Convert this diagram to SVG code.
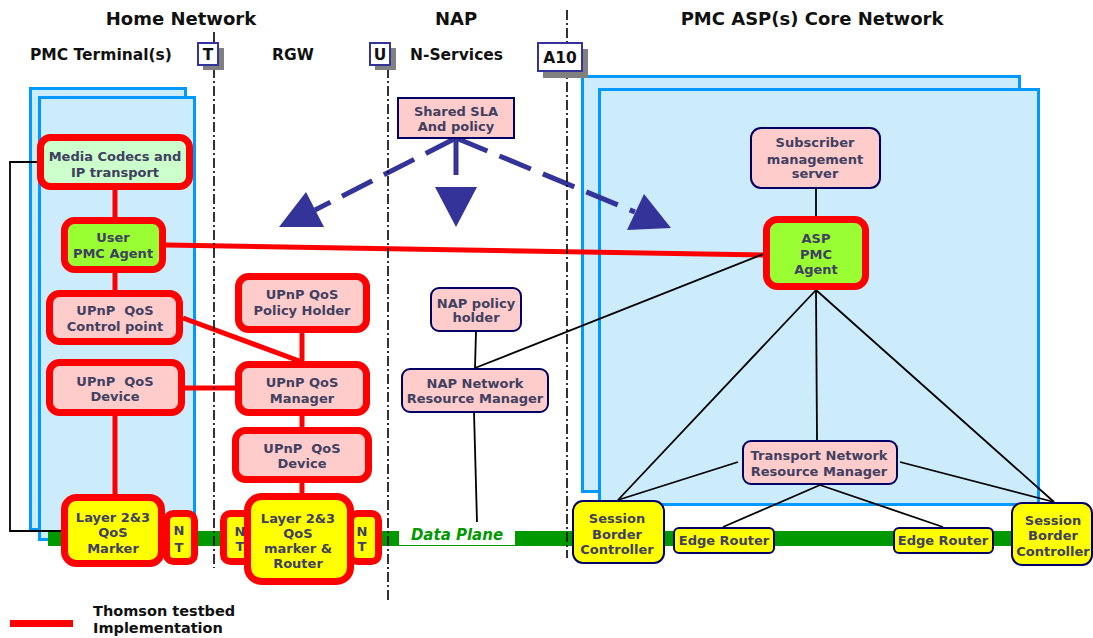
<svg xmlns="http://www.w3.org/2000/svg" width="1093" height="638" viewBox="0 0 1093 638">
<style>
.title{font-family:"DejaVu Sans",Verdana,sans-serif;font-weight:bold;font-size:18px;fill:#111;text-anchor:middle}
.sub{font-family:"DejaVu Sans",Verdana,sans-serif;font-weight:bold;font-size:15.5px;fill:#111}
.t{font-family:"DejaVu Sans",Verdana,sans-serif;font-weight:bold;font-size:13px;fill:#404060;text-anchor:middle}
.panel{fill:#CCEBFB;stroke:#0099FF;stroke-width:3}
.rn{stroke:#FF0000;stroke-width:7}
.nv{stroke:#000066;stroke-width:2}
.pink{fill:#FFCCCC}
.lg{fill:#CCFFCC}
.gr{fill:#99FF33}
.ye{fill:#FFFF00}
.dd{fill:none;stroke:#000;stroke-width:1.6;stroke-dasharray:10 3 2 3}
.red{stroke:#FF0000;stroke-width:5;fill:none}
.blk{stroke:#000;stroke-width:1.8;fill:none}
.dash{stroke:#333399;stroke-width:5;fill:none;stroke-dasharray:34 13}
.ah{fill:#333399}
.ifc{fill:#fff;stroke:#333399;stroke-width:2}
.shd{fill:#808080}
.lgd{font-family:"DejaVu Sans",Verdana,sans-serif;font-weight:bold;font-size:14.5px;fill:#111}
</style>

<g id="titles">
<text class="title" x="181" y="25">Home Network</text>
<text class="title" x="456" y="25">NAP</text>
<text class="title" x="812" y="25">PMC ASP(s) Core Network</text>
<text class="sub" x="30" y="60">PMC Terminal(s)</text>
<text class="sub" x="272" y="60">RGW</text>
<text class="sub" x="410" y="60">N-Services</text>
</g>

<g id="panels">
<rect class="panel" x="30.5" y="88.5" width="155" height="441"/>
<rect class="panel" x="39.5" y="97.5" width="155" height="442"/>
<rect class="panel" x="582.5" y="76.5" width="437" height="415"/>
<rect class="panel" x="599.5" y="89.5" width="439" height="415"/>
</g>

<g id="dataplane">
<rect x="48" y="531" width="1012" height="15" fill="#009900"/>
<rect x="399" y="531" width="116" height="14" fill="#fff"/>
<text x="457" y="539.5" font-family="DejaVu Sans,Verdana,sans-serif" font-weight="bold" font-style="italic" font-size="15" fill="#009900" text-anchor="middle">Data Plane</text>
</g>

<g id="connectors">
<line class="red" x1="166" y1="245" x2="766" y2="255"/>
<line class="red" x1="115" y1="190" x2="115" y2="217"/>
<line class="red" x1="115" y1="273" x2="115" y2="290"/>
<line class="red" x1="115" y1="416" x2="115" y2="494"/>
<line class="red" x1="183" y1="318" x2="302" y2="362"/>
<line class="red" x1="302" y1="333" x2="302" y2="361"/>
<line class="red" x1="185" y1="388" x2="235" y2="388"/>
<line class="red" x1="302" y1="416" x2="302" y2="427"/>
<line class="red" x1="302" y1="483" x2="302" y2="493"/>
<path class="blk" d="M37 162 H10 V531 H62"/>
<line class="blk" x1="476" y1="331" x2="475" y2="368"/>
<line class="blk" x1="475" y1="368" x2="766" y2="253"/>
<line class="blk" x1="474" y1="412" x2="477" y2="522"/>
<line class="blk" x1="816" y1="188" x2="816" y2="216"/>
<line class="blk" x1="816" y1="290" x2="618" y2="500"/>
<line class="blk" x1="816" y1="290" x2="817" y2="440"/>
<line class="blk" x1="816" y1="290" x2="1054" y2="502"/>
<line class="blk" x1="738" y1="462" x2="618" y2="500"/>
<line class="blk" x1="900" y1="462" x2="1054" y2="502"/>
<line class="blk" x1="820" y1="485" x2="723" y2="527"/>
<line class="blk" x1="820" y1="485" x2="943" y2="527"/>
<line class="dash" x1="456" y1="138" x2="315" y2="210"/>
<line class="dash" x1="456" y1="138" x2="635" y2="212"/>
<line stroke="#333399" stroke-width="5" x1="456" y1="138" x2="456" y2="175"/>
<polygon class="ah" points="279,227 324,227 306,192"/>
<polygon class="ah" points="435,187 477,187 456,227"/>
<polygon class="ah" points="671,228 627,230 644,194"/>
</g>

<g id="boundaries">
<line class="dd" x1="214" y1="32" x2="214" y2="568"/>
<line class="dd" x1="388" y1="68" x2="388" y2="600"/>
<line class="dd" x1="567" y1="10" x2="567" y2="558"/>
</g>

<g id="if-T">
<rect class="shd" x="203" y="48" width="21" height="22"/>
<rect class="ifc" x="198" y="43" width="20" height="22"/>
<text class="sub" x="208" y="60" text-anchor="middle">T</text>
</g>
<g id="if-U">
<rect class="shd" x="375" y="48" width="21" height="22"/>
<rect class="ifc" x="370" y="43" width="20" height="22"/>
<text class="sub" x="380" y="60" text-anchor="middle">U</text>
</g>
<g id="if-A10">
<rect class="shd" x="543" y="49" width="45" height="29"/>
<rect class="ifc" x="538" y="43" width="44" height="28"/>
<text class="sub" x="560" y="63" text-anchor="middle">A10</text>
</g>

<g id="media-codecs">
<rect class="rn lg" x="40.5" y="137.5" width="149" height="49" rx="10"/>
<text class="t" x="115" y="161">Media Codecs and</text>
<text class="t" x="115" y="177">IP transport</text>
</g>
<g id="user-pmc-agent">
<rect class="rn gr" x="64.5" y="220.5" width="98" height="49" rx="10"/>
<text class="t" x="113" y="242">User</text>
<text class="t" x="113" y="258">PMC Agent</text>
</g>
<g id="upnp-control-point">
<rect class="rn pink" x="49.5" y="293.5" width="130" height="48" rx="10"/>
<text class="t" x="115" y="315" xml:space="preserve">UPnP  QoS</text>
<text class="t" x="115" y="331">Control point</text>
</g>
<g id="upnp-device-terminal">
<rect class="rn pink" x="49.5" y="362.5" width="132" height="50" rx="10"/>
<text class="t" x="115" y="386" xml:space="preserve">UPnP  QoS</text>
<text class="t" x="115" y="401">Device</text>
</g>
<g id="nt-terminal">
<rect class="rn ye" x="166.5" y="513.5" width="28" height="48" rx="7"/>
<text class="t" x="179" y="535">N</text>
<text class="t" x="179" y="552">T</text>
</g>
<g id="layer-marker">
<rect class="rn ye" x="64.5" y="497.5" width="97" height="66" rx="12"/>
<text class="t" x="113" y="522">Layer 2&amp;3</text>
<text class="t" x="113" y="537">QoS</text>
<text class="t" x="113" y="553">Marker</text>
</g>

<g id="upnp-policy-holder">
<rect class="rn pink" x="238.5" y="276.5" width="128" height="53" rx="10"/>
<text class="t" x="302" y="299">UPnP QoS</text>
<text class="t" x="302" y="315">Policy Holder</text>
</g>
<g id="upnp-manager">
<rect class="rn pink" x="238.5" y="364.5" width="128" height="48" rx="10"/>
<text class="t" x="302" y="387">UPnP QoS</text>
<text class="t" x="302" y="403">Manager</text>
</g>
<g id="upnp-device-rgw">
<rect class="rn pink" x="235.5" y="430.5" width="133" height="49" rx="10"/>
<text class="t" x="302" y="453" xml:space="preserve">UPnP  QoS</text>
<text class="t" x="302" y="468">Device</text>
</g>
<g id="nt-rgw-left">
<rect class="rn ye" x="223.5" y="513.5" width="28" height="48" rx="7"/>
<text class="t" x="240" y="536">N</text>
<text class="t" x="240" y="551">T</text>
</g>
<g id="nt-rgw-right">
<rect class="rn ye" x="350.5" y="513.5" width="28" height="48" rx="7"/>
<text class="t" x="362" y="536">N</text>
<text class="t" x="362" y="551">T</text>
</g>
<g id="layer-router">
<rect class="rn ye" x="247.5" y="496.5" width="103" height="85" rx="14"/>
<text class="t" x="298" y="523">Layer 2&amp;3</text>
<text class="t" x="298" y="538">QoS</text>
<text class="t" x="298" y="553">marker &amp;</text>
<text class="t" x="298" y="568">Router</text>
</g>

<g id="shared-sla">
<rect class="nv pink" x="398" y="98" width="116" height="40"/>
<text class="t" x="456" y="116">Shared SLA</text>
<text class="t" x="456" y="131">And policy</text>
</g>
<g id="nap-policy-holder">
<rect class="nv pink" x="431" y="288" width="90" height="43" rx="8"/>
<text class="t" x="476" y="308">NAP policy</text>
<text class="t" x="476" y="322">holder</text>
</g>
<g id="nap-nrm">
<rect class="nv pink" x="402" y="369" width="146" height="43" rx="8"/>
<text class="t" x="475" y="388">NAP Network</text>
<text class="t" x="475" y="403">Resource Manager</text>
</g>

<g id="subscriber-mgmt">
<rect class="nv pink" x="751" y="128" width="129" height="60" rx="10"/>
<text class="t" x="815" y="147">Subscriber</text>
<text class="t" x="815" y="164">management</text>
<text class="t" x="815" y="178">server</text>
</g>
<g id="asp-pmc-agent">
<rect class="rn gr" x="766.5" y="219.5" width="99" height="67" rx="11"/>
<text class="t" x="816" y="243">ASP</text>
<text class="t" x="816" y="259">PMC</text>
<text class="t" x="816" y="274">Agent</text>
</g>
<g id="tnrm">
<rect class="nv pink" x="743" y="441" width="154" height="43" rx="8"/>
<text class="t" x="819" y="460">Transport Network</text>
<text class="t" x="819" y="476">Resource Manager</text>
</g>
<g id="sbc-left">
<rect class="nv ye" x="573" y="501" width="91" height="62" rx="10"/>
<text class="t" x="617" y="523">Session</text>
<text class="t" x="617" y="539">Border</text>
<text class="t" x="617" y="554">Controller</text>
</g>
<g id="edge-router-left">
<rect class="nv ye" x="674" y="528" width="100" height="25" rx="5"/>
<text class="t" x="724" y="545">Edge Router</text>
</g>
<g id="edge-router-right">
<rect class="nv ye" x="894" y="528" width="99" height="25" rx="5"/>
<text class="t" x="943" y="545">Edge Router</text>
</g>
<g id="sbc-right">
<rect class="nv ye" x="1012" y="503" width="80" height="62" rx="10"/>
<text class="t" x="1053" y="525">Session</text>
<text class="t" x="1053" y="540">Border</text>
<text class="t" x="1053" y="556">Controller</text>
</g>

<g id="legend">
<rect x="10" y="620" width="63" height="7" fill="#FF0000"/>
<text class="lgd" x="93" y="616">Thomson testbed</text>
<text class="lgd" x="93" y="633">Implementation</text>
</g>
</svg>
